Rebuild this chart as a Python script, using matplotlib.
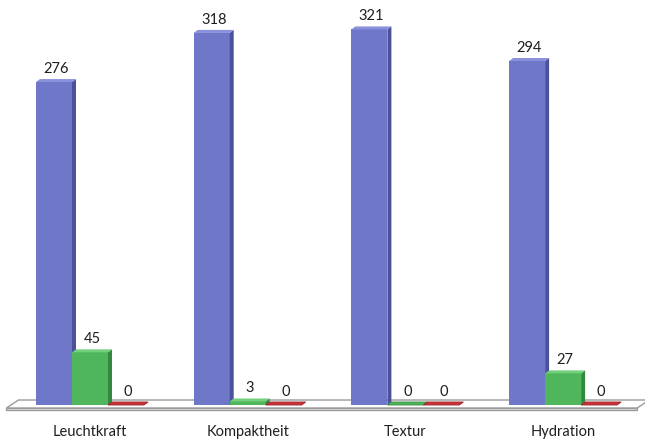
import matplotlib
matplotlib.use("Agg")
import matplotlib.pyplot as plt
from matplotlib.patches import Polygon

categories = ["Leuchtkraft", "Kompaktheit", "Textur", "Hydration"]
series_blue = [276, 318, 321, 294]
series_green = [45, 3, 0, 27]
series_red = [0, 0, 0, 0]

plt.rcParams['font.family'] = ['Lato', 'DejaVu Sans']

fig = plt.figure(figsize=(6.45, 4.41), dpi=100)
fig.patch.set_facecolor('white')
ax = fig.add_axes([0, 0, 1, 1])
PXX = 157.7   # pixels per category
PXY = 1.17    # pixels per value unit
ax.set_xlim(-90 / PXX, (645 - 90) / PXX)
ax.set_ylim(-(441 - 405) / PXY, 405 / PXY)
ax.axis('off')

width = 36 / PXX
dx = 4 / PXX
dy = 3 / PXY

# floor
fx0, fx1 = -0.53, 3.47
fdx = 12 / PXX
f_front = -3 / PXY
f_back = 5 / PXY
f_bot = -5 / PXY
floor_top = Polygon([(fx0, f_front), (fx1, f_front), (fx1 + fdx, f_back), (fx0 + fdx, f_back)],
                    closed=True, facecolor='white', edgecolor='#9a9a9a', lw=1.0, zorder=1)
floor_front = Polygon([(fx0, f_bot), (fx1, f_bot), (fx1, f_front), (fx0, f_front)],
                      closed=True, facecolor='#f2f2f2', edgecolor='#9a9a9a', lw=1.0, zorder=1)
ax.add_patch(floor_front)
ax.add_patch(floor_top)

series = [
    (series_blue, -width, ('#6e77c8', '#4b529a', '#8990dc')),
    (series_green, 0.0, ('#4fb65b', '#338a3e', '#72cf7c')),
    (series_red, width, ('#cc353c', '#9a2026', '#d8464c')),
]

for si, (vals, off, (cf, cs, ct)) in enumerate(series):
    z = 3 + si * 3
    for i, v in enumerate(vals):
        xc = i + off
        xl, xr = xc - width / 2, xc + width / 2
        ax.bar(xc, v, width, bottom=0, color=cf, edgecolor='none', zorder=z)
        side = Polygon([(xr, 0), (xr + dx, dy), (xr + dx, v + dy), (xr, v)],
                       closed=True, facecolor=cs, edgecolor='none', zorder=z + 1)
        top = Polygon([(xl, v), (xr, v), (xr + dx, v + dy), (xl + dx, v + dy)],
                      closed=True, facecolor=ct if v > 0 else cf,
                      edgecolor=cs if v == 0 else 'none', lw=0.6, zorder=z + 2)
        ax.add_patch(side)
        ax.add_patch(top)
        ax.text(xc + dx / 2, v + dy + 3 / PXY, str(v), ha='center', va='bottom',
                fontsize=10.5, color='#1e1e1e', zorder=20)

for i, c in enumerate(categories):
    ax.text(i, -(432 - 405) / PXY, c, ha='center', va='center', fontsize=10.5, color='#1e1e1e')

fig.savefig('out.png', dpi=100, facecolor='white')
